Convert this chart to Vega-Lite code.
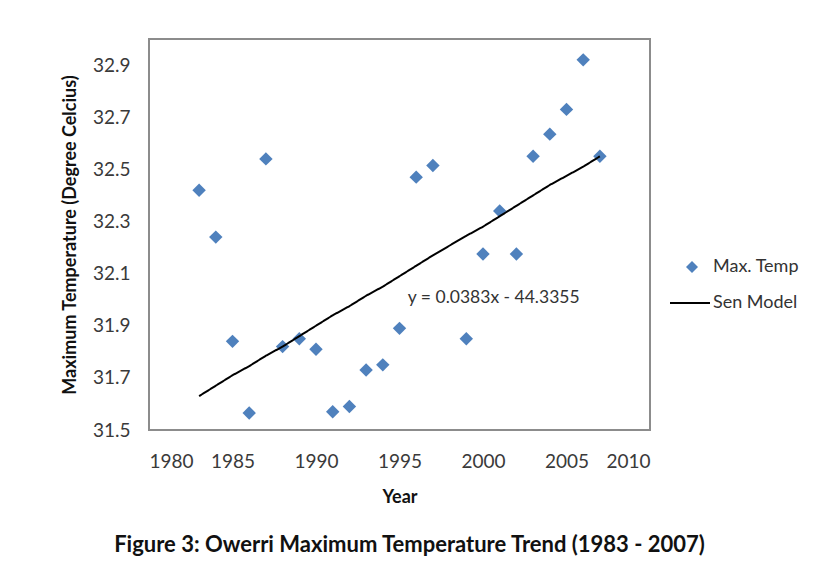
{
  "$schema": "https://vega.github.io/schema/vega-lite/v6.json",
  "width": 501,
  "height": 391,
  "autosize": {"type": "none"},
  "padding": {"left": 149, "top": 39, "right": 182, "bottom": 140},
  "background": "white",
  "config": {
    "font": "Lato",
    "view": {"stroke": "#8c8c8c", "strokeWidth": 2},
    "axis": {
      "domain": false,
      "ticks": false,
      "grid": false,
      "labelFont": "Lato",
      "labelFontSize": 19,
      "labelColor": "#3a3a3a",
      "titleFont": "Lato",
      "titleFontSize": 18,
      "titleFontWeight": "bold",
      "titleColor": "#111111"
    },
    "legend": {
      "padding": 0,
      "labelFont": "Lato",
      "labelFontSize": 18,
      "labelColor": "#333333"
    }
  },
  "title": {
    "text": "Figure 3: Owerri Maximum Temperature Trend (1983 - 2007)",
    "orient": "bottom",
    "anchor": "middle",
    "font": "Lato",
    "fontSize": 22,
    "fontWeight": "bold",
    "color": "#111111",
    "offset": 29,
    "dx": 10
  },
  "datasets": {
    "temp": [
      {"year": 1983, "temp": 32.42, "series": "Max. Temp"},
      {"year": 1984, "temp": 32.24, "series": "Max. Temp"},
      {"year": 1985, "temp": 31.84, "series": "Max. Temp"},
      {"year": 1986, "temp": 31.565, "series": "Max. Temp"},
      {"year": 1987, "temp": 32.54, "series": "Max. Temp"},
      {"year": 1988, "temp": 31.82, "series": "Max. Temp"},
      {"year": 1989, "temp": 31.85, "series": "Max. Temp"},
      {"year": 1990, "temp": 31.81, "series": "Max. Temp"},
      {"year": 1991, "temp": 31.57, "series": "Max. Temp"},
      {"year": 1992, "temp": 31.59, "series": "Max. Temp"},
      {"year": 1993, "temp": 31.73, "series": "Max. Temp"},
      {"year": 1994, "temp": 31.75, "series": "Max. Temp"},
      {"year": 1995, "temp": 31.89, "series": "Max. Temp"},
      {"year": 1996, "temp": 32.47, "series": "Max. Temp"},
      {"year": 1997, "temp": 32.515, "series": "Max. Temp"},
      {"year": 1999, "temp": 31.85, "series": "Max. Temp"},
      {"year": 2000, "temp": 32.175, "series": "Max. Temp"},
      {"year": 2001, "temp": 32.34, "series": "Max. Temp"},
      {"year": 2002, "temp": 32.175, "series": "Max. Temp"},
      {"year": 2003, "temp": 32.55, "series": "Max. Temp"},
      {"year": 2004, "temp": 32.635, "series": "Max. Temp"},
      {"year": 2005, "temp": 32.73, "series": "Max. Temp"},
      {"year": 2006, "temp": 32.92, "series": "Max. Temp"},
      {"year": 2007, "temp": 32.55, "series": "Max. Temp"}
    ],
    "sen": [
      {"year": 1983, "temp": 31.63, "series": "Sen Model"},
      {"year": 1984, "temp": 31.67, "series": "Sen Model"},
      {"year": 1985, "temp": 31.71, "series": "Sen Model"},
      {"year": 1986, "temp": 31.745, "series": "Sen Model"},
      {"year": 1987, "temp": 31.785, "series": "Sen Model"},
      {"year": 1988, "temp": 31.82, "series": "Sen Model"},
      {"year": 1989, "temp": 31.86, "series": "Sen Model"},
      {"year": 1990, "temp": 31.9, "series": "Sen Model"},
      {"year": 1991, "temp": 31.94, "series": "Sen Model"},
      {"year": 1992, "temp": 31.975, "series": "Sen Model"},
      {"year": 1993, "temp": 32.015, "series": "Sen Model"},
      {"year": 1994, "temp": 32.05, "series": "Sen Model"},
      {"year": 1995, "temp": 32.09, "series": "Sen Model"},
      {"year": 1996, "temp": 32.13, "series": "Sen Model"},
      {"year": 1997, "temp": 32.17, "series": "Sen Model"},
      {"year": 1999, "temp": 32.245, "series": "Sen Model"},
      {"year": 2000, "temp": 32.28, "series": "Sen Model"},
      {"year": 2001, "temp": 32.32, "series": "Sen Model"},
      {"year": 2002, "temp": 32.36, "series": "Sen Model"},
      {"year": 2003, "temp": 32.4, "series": "Sen Model"},
      {"year": 2004, "temp": 32.44, "series": "Sen Model"},
      {"year": 2005, "temp": 32.475, "series": "Sen Model"},
      {"year": 2006, "temp": 32.51, "series": "Sen Model"},
      {"year": 2007, "temp": 32.55, "series": "Sen Model"}
    ],
    "note": [
      {"year": 2000.64, "temp": 32.006, "label": "y = 0.0383x - 44.3355"}
    ]
  },
  "encoding": {
    "x": {
      "field": "year",
      "type": "quantitative",
      "title": "Year",
      "scale": {"domain": [1980, 2010], "nice": false, "zero": false},
      "axis": {"values": [1980, 1985, 1990, 1995, 2000, 2005, 2010], "format": "d", "labelPadding": 22, "titlePadding": 17}
    },
    "y": {
      "field": "temp",
      "type": "quantitative",
      "title": "Maximum Temperature (Degree Celcius)",
      "scale": {"domain": [31.5, 33.0], "nice": false, "zero": false},
      "axis": {"values": [31.5, 31.7, 31.9, 32.1, 32.3, 32.5, 32.7, 32.9], "format": ".1f", "labelPadding": 19, "titlePadding": 13}
    }
  },
  "layer": [
    {
      "data": {"name": "temp"},
      "mark": {"type": "point", "filled": true, "opacity": 1, "size": 180, "color": "#4f81bd"},
      "encoding": {
        "shape": {
          "field": "series",
          "type": "nominal",
          "scale": {"domain": ["Max. Temp"], "range": ["diamond"]},
          "legend": {
            "title": null,
            "orient": "none",
            "legendX": 534,
            "legendY": 219,
            "symbolSize": 144,
            "symbolOpacity": 1,
            "labelOffset": 12
          }
        }
      }
    },
    {
      "data": {"name": "sen"},
      "mark": {"type": "line", "strokeWidth": 2, "color": "#000000", "interpolate": "linear"},
      "encoding": {
        "strokeDash": {
          "field": "series",
          "type": "nominal",
          "scale": {"domain": ["Sen Model"], "range": [[1, 0]]},
          "legend": {
            "title": null,
            "orient": "none",
            "legendX": 520,
            "legendY": 243,
            "symbolType": "stroke",
            "symbolSize": 1600,
            "symbolStrokeColor": "#000000",
            "symbolStrokeWidth": 2,
            "labelOffset": 2
          }
        }
      }
    },
    {
      "data": {"name": "note"},
      "mark": {"type": "text", "font": "Lato", "fontSize": 17.5, "color": "#333333", "align": "center", "baseline": "middle"},
      "encoding": {"text": {"field": "label"}}
    }
  ]
}
